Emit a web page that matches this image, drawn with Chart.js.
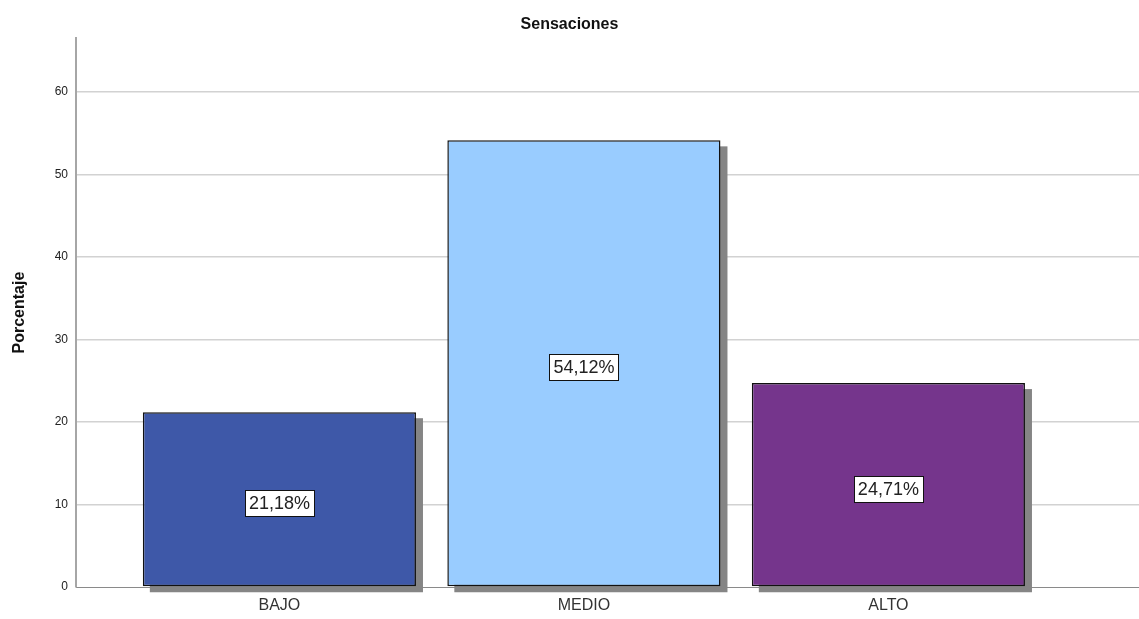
<!DOCTYPE html>
<html>
<head>
<meta charset="utf-8">
<script src="https://cdn.jsdelivr.net/npm/chart.js@4/dist/chart.umd.min.js"></script>
<style>
  html, body { margin: 0; padding: 0; background: #fff; }
  #wrap { width: 1139px; height: 619px; }
</style>
</head>
<body>
<div id="wrap"><canvas id="chart" width="1139" height="619"></canvas></div>
<script>
const categories = ['BAJO', 'MEDIO', 'ALTO'];
const porcentajes = [21.18, 54.12, 24.71];
const barColors = ['#3e58a8', '#99ccff', '#75358c'];
const yTicks = [0, 10, 20, 30, 40, 50, 60];

const fmt = v => v.toFixed(2).replace('.', ',') + '%';

// gray drop shadow behind each bar
const barShadow = {
  id: 'barShadow',
  beforeDatasetsDraw(chart) {
    const ctx = chart.ctx;
    ctx.save();
    ctx.fillStyle = '#858585';
    chart.getDatasetMeta(0).data.forEach(bar => {
      const w = bar.width;
      ctx.fillRect(bar.x - w / 2 + 7, bar.y + 6, w, bar.base - bar.y);
    });
    ctx.restore();
  }
};

// boxed percentage labels in the middle of the bars
const boxLabels = {
  id: 'boxLabels',
  afterDatasetsDraw(chart) {
    const ctx = chart.ctx;
    ctx.save();
    ctx.font = '18px Arial, "Liberation Sans", sans-serif';
    ctx.textAlign = 'center';
    ctx.textBaseline = 'middle';
    chart.getDatasetMeta(0).data.forEach((bar, i) => {
      const txt = fmt(porcentajes[i]);
      const cy = (bar.y + bar.base) / 2 + 4;
      const tw = ctx.measureText(txt).width;
      const bw = Math.round(tw + 8), bh = 26;
      const bx = Math.round(bar.x - bw / 2) + 0.5, by = Math.round(cy - bh / 2) + 0.5;
      ctx.fillStyle = '#ffffff';
      ctx.fillRect(bx, by, bw, bh);
      ctx.strokeStyle = '#111';
      ctx.lineWidth = 1;
      ctx.strokeRect(bx, by, bw, bh);
      ctx.fillStyle = '#222';
      ctx.fillText(txt, bar.x, cy + 1);
    });
    ctx.restore();
  }
};

new Chart(document.getElementById('chart'), {
  type: 'bar',
  data: {
    datasets: [{
      data: porcentajes.map((v, i) => ({ x: i, y: v })),
      backgroundColor: barColors,
      borderColor: '#111111',
      borderWidth: 1.5,
      borderSkipped: false,
      barPercentage: 0.897,
      categoryPercentage: 1
    }]
  },
  options: {
    responsive: false,
    animation: false,
    layout: { padding: { left: 0, right: 0, top: 0, bottom: 0 } },
    plugins: {
      legend: { display: false },
      tooltip: { enabled: false },
      title: {
        display: true,
        text: 'Sensaciones',
        color: '#111',
        font: { family: 'Arial, "Liberation Sans", sans-serif', size: 16, weight: 'bold' },
        padding: { top: 15, bottom: 4 }
      }
    },
    scales: {
      x: {
        type: 'linear',
        offset: false,
        min: -0.668,
        max: 2.823,
        afterBuildTicks: s => { s.ticks = categories.map((c, i) => ({ value: i })); },
        afterFit: s => { s.height = 32; },
        grid: { display: false, drawTicks: false, offset: false },
        border: { display: true, color: '#8a8a8a', width: 1 },
        ticks: {
          padding: 9,
          color: '#333',
          font: { family: 'Arial, "Liberation Sans", sans-serif', size: 16 },
          callback: v => categories[v]
        }
      },
      y: {
        min: 0,
        max: 66.5,
        afterBuildTicks: s => { s.ticks = yTicks.map(v => ({ value: v })); },
        afterFit: s => { s.width = 76; },
        grid: {
          drawTicks: false,
          color: c => c.tick && c.tick.value === 0 ? 'rgba(0,0,0,0)' : '#d2d2d2',
          lineWidth: 1.5
        },
        border: { display: true, color: '#a6a6a6', width: 2 },
        ticks: {
          padding: 8,
          color: '#222',
          font: { family: 'Arial, "Liberation Sans", sans-serif', size: 12 }
        },
        title: {
          display: true,
          text: 'Porcentaje',
          color: '#111',
          font: { family: 'Arial, "Liberation Sans", sans-serif', size: 16, weight: 'bold' },
          padding: { top: 10, bottom: 0 }
        }
      }
    }
  },
  plugins: [barShadow, boxLabels]
});
</script>
</body>
</html>
